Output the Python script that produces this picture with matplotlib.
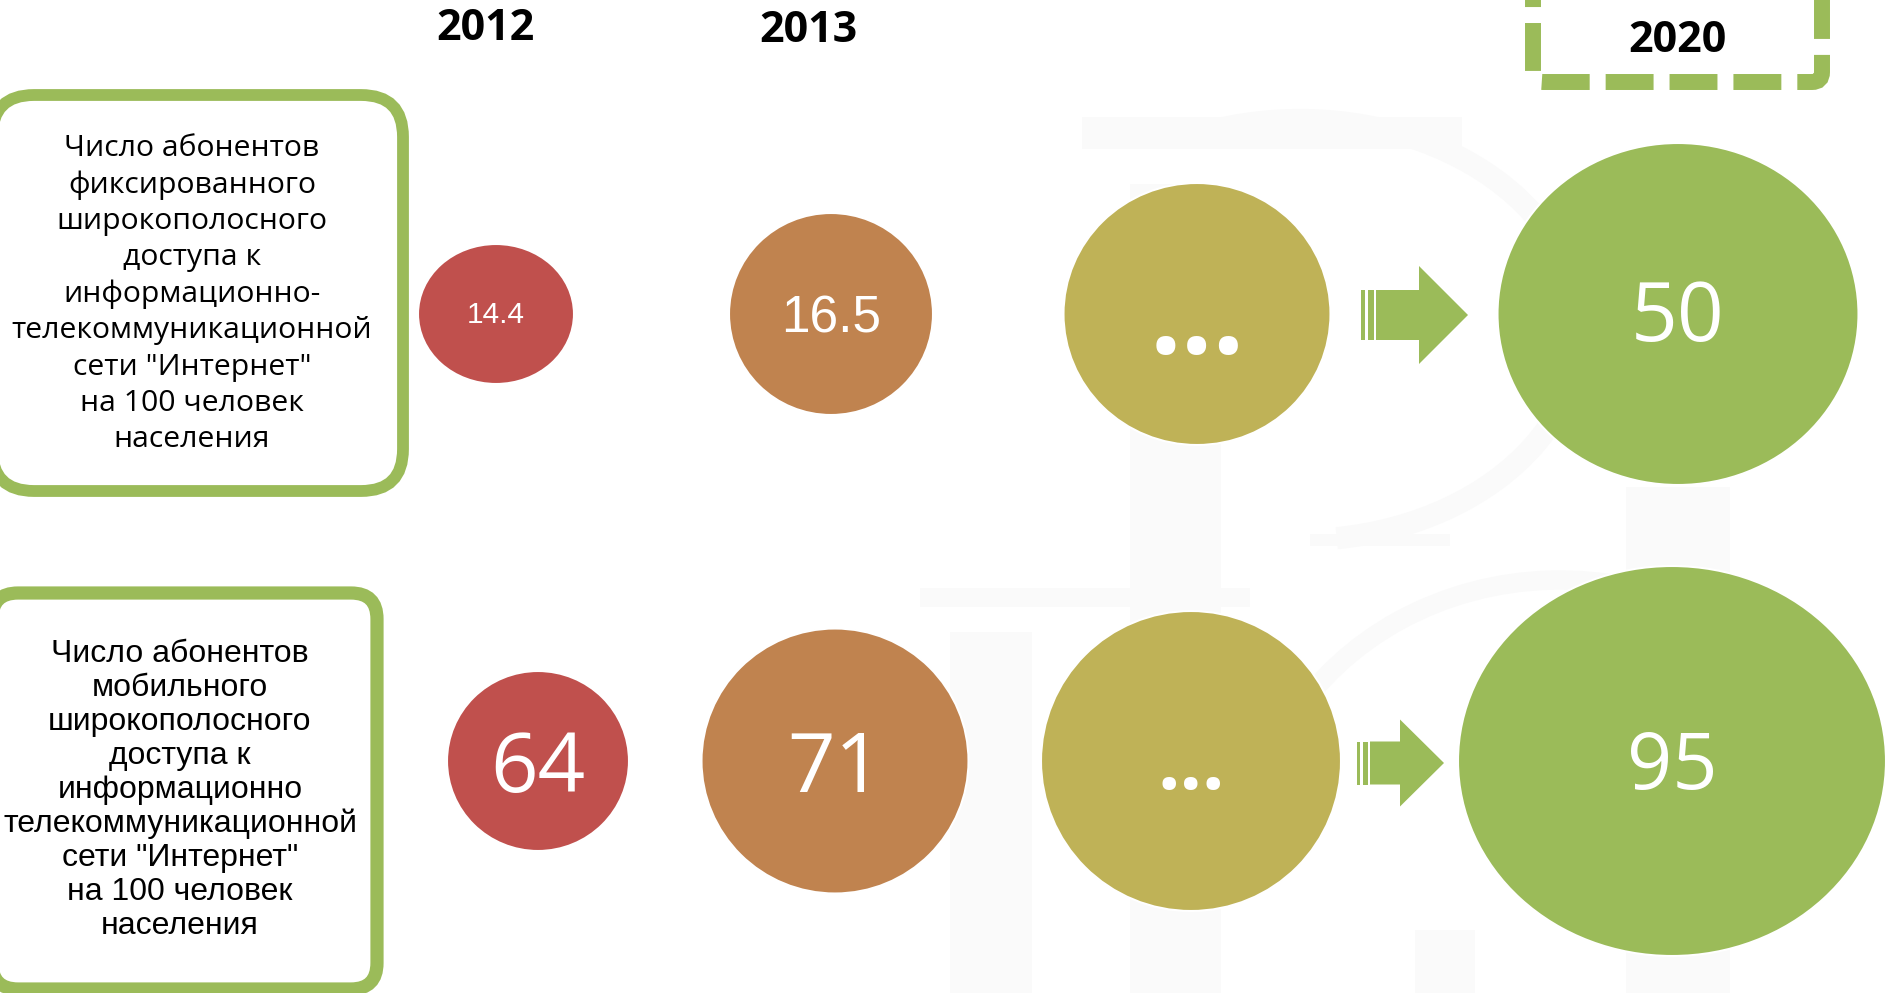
import matplotlib
matplotlib.use("Agg")
import matplotlib.pyplot as plt
from matplotlib.patches import Ellipse, FancyBboxPatch, Polygon, Rectangle, Arc

# ---- data ----
years = ["2012", "2013", "2020"]
row_labels = [
    "Число абонентов\nфиксированного\nширокополосного\nдоступа к\nинформационно-\nтелекоммуникационной\nсети \"Интернет\"\nна 100 человек\nнаселения",
    "Число абонентов\nмобильного\nширокополосного\nдоступа к\nинформационно\nтелекоммуникационной\nсети \"Интернет\"\nна 100 человек\nнаселения",
]
fixed_values = ["14.4", "16.5", "...", "50"]
mobile_values = ["64", "71", "...", "95"]

# ---- layout (pixel coordinates, y downwards) ----
W, H = 1886, 993
colors = ["#C0504D", "#C0834F", "#BFB257", "#9BBB59"]
green = "#9BBB59"
wm = "#FAFAFA"

row_y = [314, 761]
fixed_geom = [(496, 156, 140), (831, 204, 202), (1197, 267, 262), (1678, 361, 342)]
mobile_geom = [(538, 182, 180), (835, 267, 265), (1191, 300, 300), (1672, 428, 390)]
fixed_fs = [21.5, 37, 80, 59]
mobile_fs = [60, 60, 57, 57]
fixed_font = ["Liberation Sans", "Liberation Sans", "Open Sans", "Open Sans"]
mobile_font = ["Open Sans", "Open Sans", "Open Sans", "Open Sans"]
fixed_dy = [1, 5, 40, 6]
mobile_dy = [10, 10, 28, 8]

year_x = [485, 808, 1677]
year_y = [29, 31, 40]

fig = plt.figure(figsize=(W / 100, H / 100), dpi=100)
ax = fig.add_axes([0, 0, 1, 1])
ax.set_xlim(0, W)
ax.set_ylim(H, 0)
ax.axis("off")

# faint watermark background
for (x0, y0, w, h) in [(1130, 184, 91, 809), (1082, 117, 380, 32), (1626, 487, 104, 506),
                       (950, 632, 82, 361), (920, 588, 330, 19), (1310, 534, 140, 12),
                       (1415, 930, 60, 63)]:
    ax.add_patch(Rectangle((x0, y0), w, h, color=wm, lw=0, zorder=0))
ax.add_patch(Arc((1300, 330), 560, 420, theta1=-120, theta2=80, color=wm, lw=16, zorder=0))
ax.add_patch(Arc((1560, 860), 620, 560, theta1=180, theta2=300, color=wm, lw=14, zorder=0))

# year headers
for yr, x, y in zip(years, year_x, year_y):
    ax.text(x, y, yr, ha="center", va="center", fontsize=31, fontweight="bold",
            family="Open Sans", color="black", zorder=5)

# dashed frame around 2020
frame = FancyBboxPatch((1533, -30), 1822 - 1533, 82 + 30,
                       boxstyle="round,pad=0,rounding_size=10",
                       fill=False, edgecolor=green, linewidth=11.5,
                       linestyle=(0.5, (3, 1)), capstyle="butt", zorder=3)
ax.add_patch(frame)

# label boxes
box1 = FancyBboxPatch((-8, 95), 403 + 8, 491 - 95, boxstyle="round,pad=0,rounding_size=42",
                      fill=True, facecolor="white", edgecolor=green, linewidth=8.5, zorder=2)
box2 = FancyBboxPatch((-8, 593), 377 + 8, 989 - 593, boxstyle="round,pad=0,rounding_size=26",
                      fill=True, facecolor="white", edgecolor=green, linewidth=9.5, zorder=2)
ax.add_patch(box1)
ax.add_patch(box2)
ax.text(192, 294, row_labels[0], ha="center", va="center", fontsize=21.7,
        family="Open Sans", linespacing=1.33, color="black", zorder=4)
ax.text(180, 790, row_labels[1], ha="center", va="center", fontsize=23,
        family="Liberation Sans", linespacing=1.17, color="black", zorder=4)

# circles and values
rows = [(fixed_values, fixed_geom, fixed_fs, fixed_font, fixed_dy, row_y[0]),
        (mobile_values, mobile_geom, mobile_fs, mobile_font, mobile_dy, row_y[1])]
for vals, geom, fss, fonts, dys, cy in rows:
    for i, (v, g, fs, fnt, dy) in enumerate(zip(vals, geom, fss, fonts, dys)):
        x, w, h = g
        e = Ellipse((x, cy), w, h, facecolor=colors[i], edgecolor="white",
                    linewidth=1.5, zorder=3)
        ax.add_patch(e)
        if v == "...":
            ax.text(x, cy + dy, v, ha="center", va="baseline",
                    fontsize=fs, fontweight="bold", family=fnt, color="white", zorder=4)
        else:
            ax.text(x, cy + dy, v, ha="center", va="center", fontsize=fs,
                    family=fnt, color="white", zorder=4)

# arrows
def arrow(x0, cy, bar1, bar2, body_x, head_x, tip_x, body_h, head_h):
    ax.add_patch(Rectangle((x0, cy - body_h / 2), bar1, body_h, color=green, lw=0, zorder=3))
    ax.add_patch(Rectangle((x0 + bar1 + 3, cy - body_h / 2), bar2, body_h, color=green, lw=0, zorder=3))
    pts = [(body_x, cy - body_h / 2), (head_x, cy - body_h / 2), (head_x, cy - head_h / 2),
           (tip_x, cy), (head_x, cy + head_h / 2), (head_x, cy + body_h / 2),
           (body_x, cy + body_h / 2)]
    ax.add_patch(Polygon(pts, closed=True, color=green, lw=0, zorder=3))

arrow(1361, 315, 3.5, 6, 1376, 1419, 1468, 50, 98)
arrow(1357, 763, 3, 5, 1370, 1400, 1444, 43, 87)

fig.savefig("out.png", dpi=100, facecolor="white")
